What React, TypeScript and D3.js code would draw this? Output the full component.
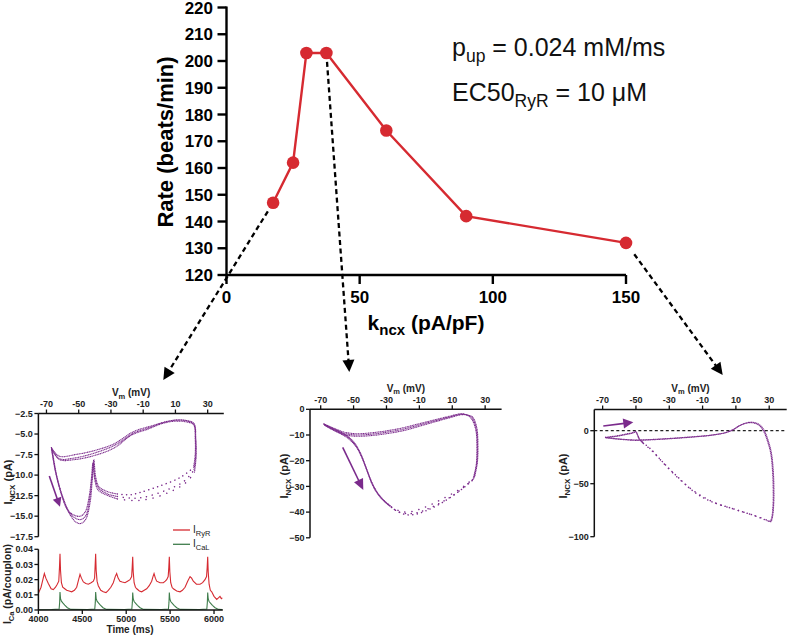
import React from 'react';
import * as d3 from 'd3';

const FONT = "'Liberation Sans', Arial, Helvetica, sans-serif";
const RED = '#d62a31';
const PURPLE = '#7b2b8c';
const GREEN = '#3f7d4c';

// ---------- main chart data ----------
const kncx = [17.5, 25, 30, 37.5, 60, 90, 150];
const rate = [147, 162, 203, 203, 174, 142, 132];
const rateTicks = [120, 130, 140, 150, 160, 170, 180, 190, 200, 210, 220];
const kncxTicks = [0, 50, 100, 150];

// ---------- phase-plane loops: [Vm (mV), INCX (pA)] ----------
const vmTicks = [-70, -50, -30, -10, 10, 30];

const leftTicksY = [-2.5, -5, -7.5, -10, -12.5, -15, -17.5];
const leftDense: [number, number][][] = [
  [[-66.9,-6.7],[-64.2,-9.7],[-60.1,-12.6],[-56,-14.6],[-51.9,-15.7],[-48.8,-15.9],[-45.7,-15.4],[-43,-13.4],[-41.6,-10.6],[-40.6,-8.1],[-39.5,-10.2],[-37.5,-11.4],[-32.3,-12.0],[-26,-12.3]],
  [[21.2,-9.1],[22.2,-7.7],[22.3,-5.7],[21.2,-3.8],[17.1,-3.4],[10.9,-3.3],[4.7,-3.5],[-5.6,-4.05],[-15.9,-4.7],[-28.2,-6.2],[-40,-7.0],[-52,-7.5],[-62,-7.7],[-66.9,-6.7]],
  [[-66.5,-6.9],[-63.5,-10.2],[-59.5,-12.9],[-55.5,-14.6],[-51.5,-15.3],[-48.5,-15.4],[-45.5,-14.9],[-43.2,-12.9],[-41.8,-10.4],[-40.9,-8.4],[-39.8,-10.4],[-37.5,-11.6],[-32,-12.3],[-26,-12.6]],
  [[21.5,-9.4],[22.6,-7.6],[22.5,-5.5],[21.4,-3.7],[16.5,-3.35],[10,-3.3],[3,-3.55],[-6,-4.2],[-16,-4.9],[-28,-6.4],[-40,-7.3],[-52,-7.9],[-62,-8.0],[-66.5,-6.9]],
  [[-67,-6.6],[-64.5,-9.5],[-61,-12.2],[-57,-14.2],[-52.5,-14.9],[-49,-15.0],[-46,-14.5],[-43.5,-12.6],[-42,-10.2],[-41.2,-8.6],[-40,-10.6],[-38,-11.8],[-33,-12.4],[-26,-12.9]],
  [[21.8,-9.7],[22.8,-7.8],[22.6,-5.6],[21.6,-3.9],[16,-3.5],[9,-3.45],[2,-3.7],[-7,-4.4],[-17,-5.1],[-28,-6.7],[-40,-7.6],[-52,-8.1],[-62,-8.1],[-67,-6.6]],
];
const leftSparse: [number, number][][] = [
  [[-26,-12.3],[-18,-12.4],[-11.8,-12.1],[0.6,-11.3],[12.9,-10.3],[21.2,-9.1]],
  [[-26,-12.6],[-18,-12.8],[-9.7,-12.7],[4.7,-11.8],[15,-10.8],[21.5,-9.4]],
  [[-26,-12.9],[-16,-13.1],[-6,-12.9],[6,-12.1],[16,-11.0],[21.8,-9.7]],
];

const midTicksY = [0, -10, -20, -30, -40, -50];
const midDense: [number, number][][] = [
  [[-68.4,-5.6],[-64,-7.0],[-58,-8.8],[-53,-10.8],[-49,-13.5],[-45.5,-17.5],[-42.5,-22.5],[-39.5,-27.5],[-36.5,-31.5],[-33,-34.5],[-29,-37]],
  [[22.5,-27.5],[24.5,-22],[25,-15],[24.3,-8],[21.5,-3.5],[18,-2.0],[14.5,-1.8],[9,-2.6],[0,-4.0],[-10,-5.6],[-20,-7.2],[-30,-8.4],[-40,-9.2],[-48,-9.5],[-55,-9.0],[-62,-7.4],[-68.4,-5.6]],
  [[-68,-5.9],[-63.5,-7.4],[-57.5,-9.3],[-52.5,-11.4],[-48.5,-14.2],[-45,-18.5],[-42,-23.5],[-39,-28.5],[-35.5,-32.5],[-32,-35.3],[-28,-37.5]],
  [[23,-27],[24.8,-21.5],[25.3,-14.5],[24.6,-7.6],[22,-3.3],[18.5,-2.1],[15,-1.9],[9.5,-2.8],[0.5,-4.3],[-9.5,-6],[-19.5,-7.7],[-29.5,-8.9],[-39.5,-9.7],[-47.5,-10],[-55,-9.5],[-62,-7.8],[-68,-5.9]],
  [[-67.6,-6.2],[-63,-7.8],[-57,-9.8],[-52,-12],[-48,-15],[-44.5,-19.5],[-41.5,-24.5],[-38.5,-29.5],[-35,-33.2],[-31,-36],[-27,-38]],
  [[23.5,-26.5],[25.2,-21],[25.6,-14],[24.9,-7.2],[22.4,-3.1],[19,-2.2],[15.5,-2.1],[10,-3.0],[1,-4.6],[-9,-6.4],[-19,-8.2],[-29,-9.4],[-39,-10.2],[-47,-10.5],[-55,-10.0],[-62,-8.2],[-67.6,-6.2]],
];
const midSparse: [number, number][][] = [
  [[-29,-37],[-24,-39.5],[-18,-41],[-12,-40.8],[-6,-39.5],[2,-37],[10,-33.8],[17,-30.5],[22.5,-27.5]],
  [[-28,-37.5],[-23,-39.8],[-16,-40.6],[-10,-40],[-4,-38.5],[4,-36],[12,-32.8],[18,-29.8],[23,-27]],
  [[-27,-38],[-21,-39.8],[-15,-39.8],[-8.5,-38.6],[-2,-36.8],[6,-34.2],[13.5,-31.5],[19,-29],[23.5,-26.5]],
];

const rightTicksY = [0, -50, -100];
const rightDense: [number, number][][] = [
  [[-68.6,-6.3],[-62,-5.0],[-56,-3.2],[-52,-1.8],[-50.2,-0.8],[-49.2,-3.5],[-48.2,-7.5],[-46,-11]],
  [[28.5,-84.8],[30.5,-85.5],[31.5,-82],[32.3,-70],[32.4,-55],[32,-38],[31,-22],[29,-10],[26.5,0],[23.5,5.5],[19.5,7.6],[16,7.0],[12,4.5],[8,0.6],[3,-2.2],[-5,-4.2],[-15,-5.6],[-25,-6.8],[-35,-7.8],[-45,-8.6],[-50,-8.8],[-55,-8.4],[-62,-7.5],[-68.6,-6.3]],
  [[-68.3,-6.6],[-62,-5.4],[-56,-3.6],[-52,-2.2],[-50,-1.2],[-49,-4.0],[-47.8,-8.0],[-45.5,-12]],
  [[29.5,-85],[31,-85.8],[32,-81],[32.7,-69],[32.8,-54],[32.4,-37],[31.3,-21],[29.3,-9],[26.8,0.8],[23.8,6.0],[19.8,8.0],[16.2,7.3],[12.2,4.8],[8.2,0.9],[3.2,-2.0],[-5,-4.4],[-15,-5.9],[-25,-7.1],[-35,-8.1],[-45,-8.9],[-50,-9.1],[-55,-8.7],[-62,-7.8],[-68.3,-6.6]],
];
const rightSparse: [number, number][][] = [
  [[-46,-11],[-41,-17.5],[-36,-26],[-30,-36],[-24,-45],[-18,-54],[-11,-62],[-3,-68],[6,-72.5],[14,-76.5],[20,-79.5],[25,-82.5],[28.5,-84.8]],
  [[-45.5,-12],[-40,-19.5],[-35,-28],[-29,-38],[-23,-47],[-16,-56],[-9,-63],[-1,-69],[8,-73.5],[16,-77.5],[22,-80.5],[26.5,-83],[29.5,-85]],
];

// ---------- Ca current time series: [time (ms), current (pA/couplon)] ----------
const timeTicks = [4000, 4500, 5000, 5500, 6000];
const icaTicks = [0, 0.01, 0.02, 0.03, 0.04];
const iRyR: [number, number][] = [
  [4000,0.011],[4030,0.015],[4055,0.021],[4068,0.024],[4085,0.021],[4113,0.0175],[4145,0.014],[4170,0.0135],[4195,0.015],[4215,0.017],[4232,0.019],[4240,0.028],[4246,0.037],[4252,0.026],[4262,0.018],[4277,0.015],[4300,0.014],[4322,0.013],[4350,0.0125],[4379,0.012],[4410,0.013],[4436,0.015],[4458,0.02],[4474,0.0235],[4490,0.021],[4512,0.0185],[4540,0.0175],[4569,0.017],[4600,0.018],[4626,0.019],[4640,0.021],[4646,0.029],[4652,0.037],[4658,0.026],[4668,0.019],[4682,0.016],[4710,0.013],[4739,0.012],[4770,0.0115],[4796,0.013],[4825,0.015],[4853,0.018],[4875,0.022],[4891,0.024],[4908,0.021],[4929,0.019],[4955,0.0185],[4986,0.018],[5015,0.019],[5043,0.02],[5062,0.022],[5068,0.028],[5074,0.035],[5080,0.025],[5090,0.018],[5105,0.015],[5120,0.014],[5150,0.0125],[5176,0.012],[5205,0.013],[5233,0.014],[5262,0.016],[5290,0.019],[5305,0.022],[5317,0.024],[5332,0.021],[5347,0.019],[5385,0.018],[5423,0.018],[5445,0.019],[5461,0.02],[5478,0.022],[5485,0.028],[5491,0.035],[5497,0.025],[5507,0.018],[5522,0.015],[5537,0.014],[5575,0.0125],[5613,0.012],[5640,0.013],[5670,0.015],[5700,0.019],[5727,0.022],[5745,0.021],[5764,0.019],[5800,0.017],[5841,0.017],[5870,0.018],[5897,0.02],[5915,0.022],[5922,0.028],[5928,0.035],[5934,0.025],[5944,0.017],[5958,0.013],[5974,0.012],[6000,0.009],[6031,0.007],[6050,0.008],[6068,0.009],[6083,0.0075],[6095,0.008],
];
const iCaL: [number, number][] = [
  [4000,0.0002],[4150,0.0003],[4236,0.0006],[4242,0.005],[4246,0.0118],[4252,0.0075],[4262,0.0058],[4280,0.0045],[4300,0.0032],[4330,0.0015],[4370,0.0004],
  [4560,0.0003],[4642,0.0006],[4648,0.005],[4652,0.0118],[4658,0.0075],[4668,0.0058],[4686,0.0045],[4706,0.0032],[4736,0.0015],[4776,0.0004],
  [4980,0.0003],[5064,0.0006],[5070,0.005],[5074,0.0115],[5080,0.0073],[5090,0.0056],[5108,0.0044],[5128,0.0031],[5158,0.0015],[5198,0.0004],
  [5400,0.0003],[5481,0.0006],[5487,0.005],[5491,0.0115],[5497,0.0073],[5507,0.0056],[5525,0.0044],[5545,0.0031],[5575,0.0015],[5615,0.0004],
  [5835,0.0003],[5918,0.0006],[5924,0.005],[5928,0.0115],[5934,0.0073],[5944,0.0056],[5962,0.0044],[5982,0.0031],[6012,0.0015],[6052,0.0004],[6095,0.0003],
];

function Arrow(props: { x1: number; y1: number; x2: number; y2: number; color: string; width: number; dash?: string; headLen: number; headW: number }) {
  const { x1, y1, x2, y2, color, width, dash, headLen, headW } = props;
  const dx = x2 - x1, dy = y2 - y1;
  const L = Math.hypot(dx, dy);
  const ux = dx / L, uy = dy / L;
  const bx = x2 - ux * headLen, by = y2 - uy * headLen;
  const px = -uy, py = ux;
  return (
    <g>
      <line x1={x1} y1={y1} x2={bx + ux * 1} y2={by + uy * 1} stroke={color} strokeWidth={width} strokeDasharray={dash} />
      <polygon points={`${x2},${y2} ${bx + px * headW},${by + py * headW} ${bx - px * headW},${by - py * headW}`} fill={color} />
    </g>
  );
}

type PanelProps = {
  xr: [number, number];
  xd: [number, number];
  yr: [number, number];
  yd: [number, number];
  yTicks: number[];
  yFmt: (v: number) => string;
  dense: [number, number][][];
  sparse: [number, number][][];
  tickBase: number;
  titleBase: number;
  yTitleX: number;
  yTitleY: number;
};

function LoopPanel(p: PanelProps) {
  const x = d3.scaleLinear().domain(p.xd).range(p.xr);
  const y = d3.scaleLinear().domain(p.yd).range(p.yr);
  const ln = d3.line<[number, number]>().x(d => x(d[0])).y(d => y(d[1])).curve(d3.curveCatmullRom.alpha(0.5));
  const top = p.yr[1];
  const x0 = p.xr[0];
  return (
    <g fontFamily={FONT}>
      {p.dense.map((c, i) => (
        <path key={'d' + i} d={ln(c) || ''} fill="none" stroke={PURPLE} strokeWidth={1.1} strokeDasharray="1.2 0.5" />
      ))}
      {p.sparse.map((c, i) => (
        <path key={'s' + i} d={ln(c) || ''} fill="none" stroke={PURPLE} strokeWidth={1.5} strokeLinecap="round" strokeDasharray={`0.1 ${4.5 + i * 1.3}`} />
      ))}
      <line x1={x0} x2={p.xr[1]} y1={top} y2={top} stroke="#111" strokeWidth={1.5} />
      <line x1={x0} x2={x0} y1={top} y2={p.yr[0]} stroke="#111" strokeWidth={1.5} />
      {vmTicks.map(t => (
        <g key={t}>
          <line x1={x(t)} x2={x(t)} y1={top} y2={top - 4} stroke="#111" strokeWidth={1.3} />
          <text x={x(t)} y={p.tickBase} textAnchor="middle" fontSize={9} fontWeight="bold" fill="#222">{t}</text>
        </g>
      ))}
      <text x={(p.xr[0] + p.xr[1]) / 2} y={p.titleBase} textAnchor="middle" fontSize={10} fontWeight="bold" fill="#222">
        V<tspan fontSize={7.5} dy={2.5}>m</tspan><tspan dy={-2.5}> (mV)</tspan>
      </text>
      {p.yTicks.map(t => (
        <g key={t}>
          <line x1={x0 - 4} x2={x0} y1={y(t)} y2={y(t)} stroke="#111" strokeWidth={1.3} />
          <text x={x0 - 5.5} y={y(t)} dy="0.35em" textAnchor="end" fontSize={9} fontWeight="bold" fill="#222">{p.yFmt(t)}</text>
        </g>
      ))}
      <text transform={`translate(${p.yTitleX},${p.yTitleY}) rotate(-90)`} textAnchor="middle" fontSize={11} fontWeight="bold" fill="#222">
        I<tspan fontSize={8} dy={3}>NCX</tspan><tspan dy={-3}> (pA)</tspan>
      </text>
    </g>
  );
}

export default function App() {
  const x = d3.scaleLinear().domain([0, 150]).range([226.5, 626]);
  const y = d3.scaleLinear().domain([120, 220]).range([275, 7.5]);
  const rateLine = d3.line<number>().x((_, i) => x(kncx[i])).y((d) => y(d));

  // dashed pointer arrows from selected data points to the panels below
  const pointerTargets: { idx: number; tip: [number, number]; gap: number }[] = [
    { idx: 0, tip: [163.3, 380], gap: 10 },
    { idx: 3, tip: [349.3, 372], gap: 9 },
    { idx: 6, tip: [722.7, 375], gap: 14 },
  ];

  // time series panel
  const tx = d3.scaleLinear().domain([4000, 6100]).range([38.4, 222.8]);
  const ty = d3.scaleLinear().domain([0, 0.04]).range([610, 549.3]);
  const tsLine = d3.line<[number, number]>().x(d => tx(d[0])).y(d => ty(d[1]));

  const rightX = d3.scaleLinear().domain([-75, 40.5]).range([594.3, 786.7]);
  const rightY = d3.scaleLinear().domain([-100, 20]).range([536.7, 409.5]);

  return (
    <svg width={787} height={641} style={{ position: 'absolute', left: 0, top: 0, background: '#fff' }} fontFamily={FONT}>
      <rect width={787} height={641} fill="#fff" />
      {/* ===== main chart ===== */}
      <path d={rateLine(rate) || ''} fill="none" stroke={RED} strokeWidth={2.4} />
      {rate.map((r, i) => (
        <circle key={i} cx={x(kncx[i])} cy={y(r)} r={6.3} fill={RED} />
      ))}
      <line x1={x(0)} x2={x(150)} y1={y(120)} y2={y(120)} stroke="#000" strokeWidth={2.4} />
      <line x1={x(0)} x2={x(0)} y1={y(120) + 1.2} y2={y(220) - 1} stroke="#000" strokeWidth={2.4} />
      {rateTicks.map(t => (
        <g key={t}>
          <line x1={x(0) - 9} x2={x(0)} y1={y(t)} y2={y(t)} stroke="#000" strokeWidth={2.4} />
          <text x={213} y={y(t)} dy="0.36em" textAnchor="end" fontSize={17} fontWeight="bold">{t}</text>
        </g>
      ))}
      {kncxTicks.map(t => (
        <g key={t}>
          <line x1={x(t)} x2={x(t)} y1={y(120)} y2={y(120) + 9} stroke="#000" strokeWidth={2.4} />
          <text x={x(t)} y={303} textAnchor="middle" fontSize={17} fontWeight="bold">{t}</text>
        </g>
      ))}
      <text transform="translate(173,142) rotate(-90)" textAnchor="middle" fontSize={22} fontWeight="bold">Rate (beats/min)</text>
      <text x={426} y={330} textAnchor="middle" fontSize={21} fontWeight="bold">
        k<tspan fontSize={15} dy={5}>ncx</tspan><tspan dy={-5}> (pA/pF)</tspan>
      </text>
      <text x={452} y={56} fontSize={25} fill="#111">
        p<tspan fontSize={17.5} dy={6}>up</tspan><tspan dy={-6}> = 0.024 mM/ms</tspan>
      </text>
      <text x={452} y={101} fontSize={25} fill="#111">
        EC50<tspan fontSize={17.5} dy={6}>RyR</tspan><tspan dy={-6}> = 10 μM</tspan>
      </text>
      {pointerTargets.map(pt => {
        const cx = x(kncx[pt.idx]);
        const cy = y(rate[pt.idx]);
        const dx = pt.tip[0] - cx, dy = pt.tip[1] - cy;
        const L = Math.hypot(dx, dy);
        return (
          <Arrow key={pt.idx} x1={cx + (dx / L) * pt.gap} y1={cy + (dy / L) * pt.gap} x2={pt.tip[0]} y2={pt.tip[1]}
            color="#000" width={2.3} dash="5 3.5" headLen={12} headW={6} />
        );
      })}

      {/* ===== left panel ===== */}
      <LoopPanel xr={[38.4, 223.8]} xd={[-75, 40]} yr={[536.7, 413.5]} yd={[-17.5, -2.5]} yTicks={leftTicksY}
        yFmt={d3.format('.1f')} dense={leftDense} sparse={leftSparse} tickBase={407} titleBase={396} yTitleX={12} yTitleY={482} />
      <Arrow x1={49.3} y1={476} x2={60} y2={506.7} color={PURPLE} width={1.6} headLen={9} headW={4.5} />

      {/* time series */}
      <path d={tsLine(iCaL) || ''} fill="none" stroke={GREEN} strokeWidth={1.1} />
      <path d={tsLine(iRyR) || ''} fill="none" stroke={RED} strokeWidth={1.1} />
      <line x1={tx(4000)} x2={tx(6100)} y1={ty(0)} y2={ty(0)} stroke="#111" strokeWidth={1.5} />
      <line x1={tx(4000)} x2={tx(4000)} y1={ty(0)} y2={ty(0.04)} stroke="#111" strokeWidth={1.5} />
      {timeTicks.map(t => (
        <g key={t}>
          <line x1={tx(t)} x2={tx(t)} y1={ty(0)} y2={ty(0) + 4} stroke="#111" strokeWidth={1.3} />
          <text x={tx(t)} y={621.5} textAnchor="middle" fontSize={9} fontWeight="bold" fill="#222">{t}</text>
        </g>
      ))}
      {icaTicks.map(t => (
        <g key={t}>
          <line x1={tx(4000) - 4} x2={tx(4000)} y1={ty(t)} y2={ty(t)} stroke="#111" strokeWidth={1.3} />
          <text x={33} y={ty(t)} dy="0.35em" textAnchor="end" fontSize={9} fontWeight="bold" fill="#222">{d3.format('.2f')(t)}</text>
        </g>
      ))}
      <text x={130} y={633} textAnchor="middle" fontSize={10} fontWeight="bold" fill="#222">Time (ms)</text>
      <text transform="translate(11,584) rotate(-90)" textAnchor="middle" fontSize={10.5} fontWeight="bold" fill="#222">
        I<tspan fontSize={7.5} dy={2.5}>Ca</tspan><tspan dy={-2.5}> (pA/couplon)</tspan>
      </text>
      <line x1={173} x2={190} y1={530} y2={530} stroke={RED} strokeWidth={1.3} />
      <text x={193} y={533} fontSize={10} fill="#222">I<tspan fontSize={7.5} dy={2.5}>RyR</tspan></text>
      <line x1={173} x2={190} y1={544.3} y2={544.3} stroke={GREEN} strokeWidth={1.3} />
      <text x={193} y={547.3} fontSize={10} fill="#222">I<tspan fontSize={7.5} dy={2.5}>CaL</tspan></text>

      {/* ===== middle panel ===== */}
      <LoopPanel xr={[310, 501.6]} xd={[-76.5, 40]} yr={[537.8, 409.3]} yd={[-50, 0]} yTicks={midTicksY}
        yFmt={d3.format('d')} dense={midDense} sparse={midSparse} tickBase={402.5} titleBase={391.5} yTitleX={288} yTitleY={476} />
      <Arrow x1={342.7} y1={447.3} x2={363.3} y2={490} color={PURPLE} width={1.6} headLen={11} headW={5} />

      {/* ===== right panel ===== */}
      <line x1={rightX(-75)} x2={786.7} y1={rightY(0)} y2={rightY(0)} stroke="#222" strokeWidth={1.2} strokeDasharray="3 2.5" />
      <LoopPanel xr={[594.3, 786.7]} xd={[-75, 40.5]} yr={[536.7, 409.5]} yd={[-100, 20]} yTicks={rightTicksY}
        yFmt={d3.format('d')} dense={rightDense} sparse={rightSparse} tickBase={402.5} titleBase={391.5} yTitleX={567} yTitleY={476} />
      <Arrow x1={603.3} y1={426} x2={633.3} y2={422.3} color={PURPLE} width={1.6} headLen={10} headW={5} />
    </svg>
  );
}
